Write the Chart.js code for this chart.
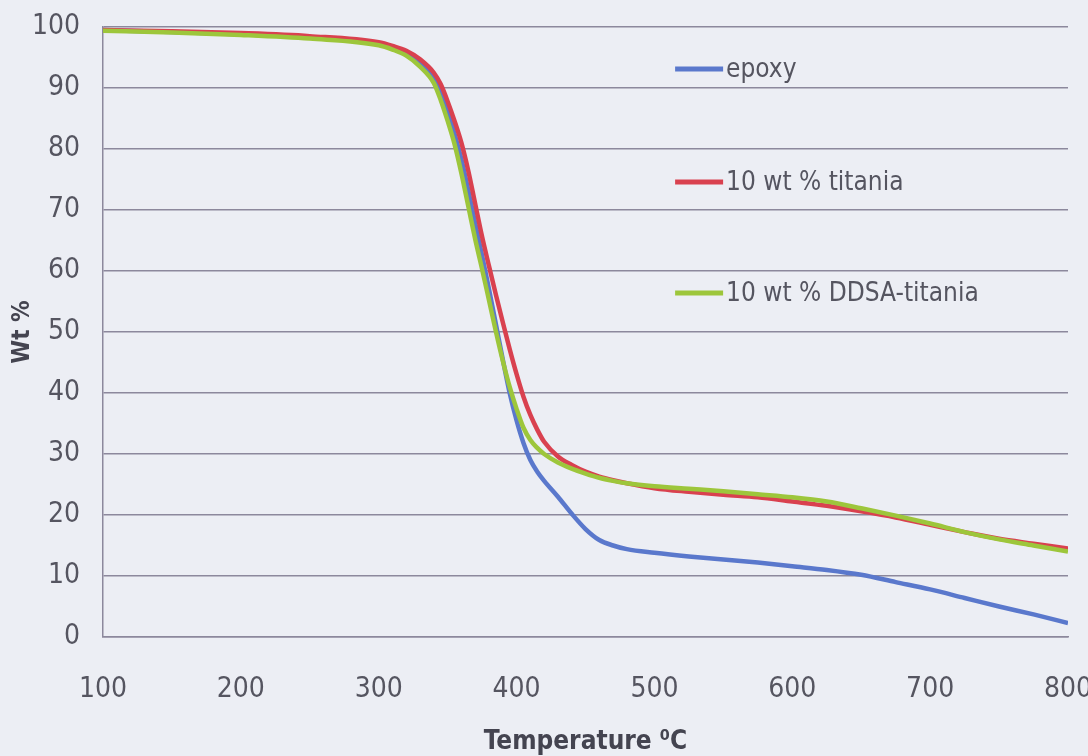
<!DOCTYPE html>
<html>
<head>
<meta charset="utf-8">
<script src="https://cdn.jsdelivr.net/npm/chart.js@4.4.1/dist/chart.umd.min.js"></script>
<style>
  html, body { margin: 0; padding: 0; background: #eceef4; }
  #wrap { width: 1088px; height: 756px; position: relative; }
</style>
</head>
<body>
<div id="wrap"><canvas id="c" width="1088" height="756"></canvas></div>
<script>
const temps   = [100,150,200,250,300,310,320,330,340,345,350,355,360,365,370,375,380,385,390,395,400,405,410,415,420,430,440,450,460,470,480,500,525,550,575,600,625,650,675,700,725,750,775,800];
const epoxy   = [99.5,99.2,98.8,98.3,97.2,96.6,95.7,94.2,91.8,89.5,86.2,82.5,78.3,73.2,67.8,62.5,57,51.3,45.5,40,35.5,31.8,29.0,27.1,25.6,23.0,20.2,17.7,15.9,15.0,14.4,13.8,13.2,12.7,12.2,11.6,11.0,10.2,9.0,7.8,6.4,5.0,3.7,2.3];
const titania = [99.5,99.3,99.0,98.5,97.5,96.9,96.1,94.7,92.5,90.6,87.8,84.6,81.0,76.4,71,65.6,60.8,56.1,51.6,47.2,43.1,39.4,36.4,34.0,32.0,29.6,28.2,27.1,26.3,25.7,25.2,24.4,23.8,23.3,22.9,22.2,21.5,20.6,19.6,18.4,17.2,16.1,15.3,14.5];
const ddsa    = [99.4,99.1,98.7,98.1,97.0,96.3,95.3,93.5,90.8,88.0,84.6,80.8,76.0,70.6,65.2,60.3,55.2,50.1,45.3,41.0,37.4,34.3,32.3,31.0,30.0,28.6,27.6,26.8,26.1,25.6,25.2,24.7,24.3,23.9,23.4,22.9,22.2,21.1,19.9,18.6,17.2,16.0,15.0,14.0];
const seriesNames = ['epoxy','10 wt % titania','10 wt % DDSA-titania'];
const legendAt = [{x:515, y:93.1},{x:515, y:74.6},{x:515, y:56.4}];
const yTicks = [0,10,20,30,40,50,60,70,80,90,100];
const xTicks = [100,200,300,400,500,600,700,800];

const FONT = '"Liberation Sans Narrow", "DejaVu Sans Condensed", Lato, sans-serif';
const GRID = '#8c889c';
const TEXT = '#555560';

function pts(arr){ return temps.map((t,i)=>({x:t, y:arr[i]})); }

const legendPlugin = {
  id: 'inlineLegend',
  afterDatasetsDraw(chart){
    const ctx = chart.ctx, xs = chart.scales.x, ys = chart.scales.y;
    chart.data.datasets.forEach((ds, i) => {
      const p = legendAt[i];
      const x0 = xs.getPixelForValue(p.x), y0 = ys.getPixelForValue(p.y);
      ctx.save();
      ctx.strokeStyle = ds.borderColor; ctx.lineWidth = 5; ctx.lineCap = 'butt';
      ctx.beginPath(); ctx.moveTo(x0, y0); ctx.lineTo(x0 + 48, y0); ctx.stroke();
      ctx.fillStyle = TEXT; ctx.font = '26px ' + FONT; ctx.textBaseline = 'middle'; ctx.textAlign = 'left';
      ctx.fillText(ds.label, x0 + 51, y0 + 1);
      ctx.restore();
    });
  }
};

new Chart(document.getElementById('c'), {
  type: 'line',
  data: {
    datasets: [
      { label: seriesNames[0], data: pts(epoxy),   borderColor: '#5a78cc', borderWidth: 4.5, pointRadius: 0, cubicInterpolationMode: 'monotone', order: 2 },
      { label: seriesNames[1], data: pts(titania), borderColor: '#d9414f', borderWidth: 4.5, pointRadius: 0, cubicInterpolationMode: 'monotone', order: 1 },
      { label: seriesNames[2], data: pts(ddsa),    borderColor: '#9dc63b', borderWidth: 4.5, pointRadius: 0, cubicInterpolationMode: 'monotone', order: 0 }
    ]
  },
  options: {
    responsive: false,
    animation: false,
    layout: { padding: { left: 8, right: 0, top: 27, bottom: 0 } },
    plugins: { legend: { display: false }, tooltip: { enabled: false } },
    scales: {
      x: {
        type: 'linear', min: 100, max: 800,
        afterBuildTicks(s){ s.ticks = xTicks.map(v=>({value:v})); },
        afterFit(s){ s.height = 119; s.paddingRight = 20; s.paddingLeft = 0; },
        grid: { display: false, drawTicks: false },
        border: { display: true, color: GRID, width: 1.5 },
        ticks: { color: TEXT, font: { family: FONT, size: 28 }, padding: 36, maxRotation: 0 },
        title: { display: true, text: 'Temperature ⁰C', color: '#444450', font: { family: FONT, size: 26, weight: 'bold' }, padding: { top: 4, bottom: -2 } }
      },
      y: {
        min: 0, max: 100,
        afterBuildTicks(s){ s.ticks = yTicks.map(v=>({value:v})); },
        afterFit(s){ s.width = 95; s.paddingTop = 0; s.paddingBottom = 0; },
        grid: { color: GRID, lineWidth: 1.5, drawTicks: false },
        border: { display: true, color: GRID, width: 1.5 },
        ticks: { color: TEXT, font: { family: FONT, size: 28 }, padding: 23 },
        title: { display: true, text: 'Wt %', color: '#444450', font: { family: FONT, size: 24, weight: 'bold' }, padding: 0 }
      }
    }
  },
  plugins: [legendPlugin]
});
</script>
</body>
</html>
